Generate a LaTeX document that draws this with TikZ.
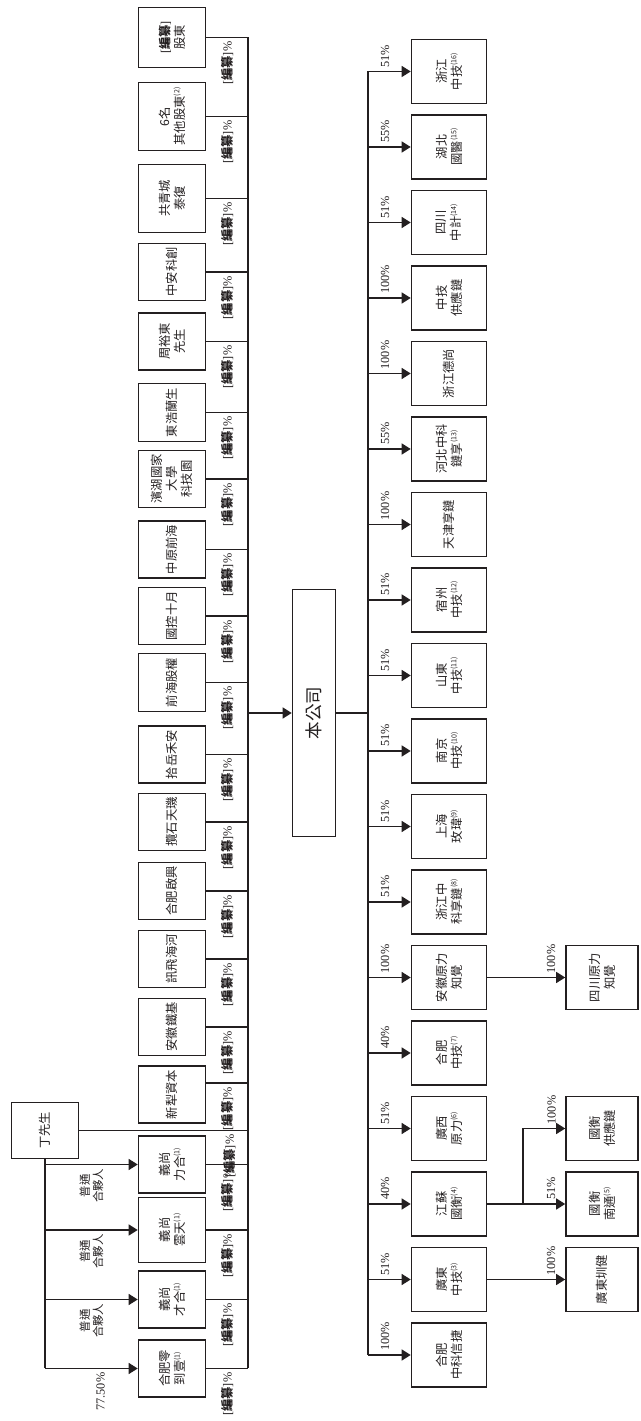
\documentclass[tikz,border=0pt]{standalone}
\usepackage{fontspec}
\setmainfont{Liberation Serif}
\newfontfamily\cjk{Noto Sans CJK TC}
\usetikzlibrary{arrows.meta}
\definecolor{ink}{RGB}{35,31,32}
\newcommand\px{0.02cm}
\newcommand\bz{{\rmfamily[}{\bfseries 編纂}{\rmfamily]}}
\newcommand\bzp{[{\cjk\bfseries 編纂}]\%}
\newcommand\nt[1]{\raisebox{.7ex}{\fontsize{4}{4}\selectfont(#1)}}
\tikzset{
  box/.style={draw=ink, line width=.9pt, text=ink, inner sep=1pt, align=center,
    font=\cjk\fontsize{7}{8.5}\selectfont},
  holder/.style={box, minimum height=67*\px},
  subbox/.style={box, minimum width=64*\px, minimum height=75*\px},
  link/.style={draw=ink, line width=.75pt},
  arr/.style={link, -{Triangle[length=.18cm, width=.22cm]}},
  pct/.style={text=ink, inner sep=2pt, align=center, font=\fontsize{7}{8}\selectfont},
}
\begin{document}
\begin{tikzpicture}[x=\px, y=\px, rotate=90, transform shape]
\useasboundingbox (0,0) rectangle (1421,640);

% shareholders
\foreach \nm/\xc/\w/\txt in {
  s1/1383.5/60/{\bz\\股東},
  s2/1304.5/68/{6名\\其他股東\nt{2}},
  s3/1222.5/68/{共青城\\泰復},
  s4/1149/57/中安科創,
  s5/1079.5/57/{周裕東\\先生},
  s6/1008.5/58/東浩蘭生,
  s7/942/57/{濱湖國家\\大學\\科技園},
  s8/871.5/57/中原前海,
  s9/805/57/國控十月,
  s10/738.5/58/前海股權,
  s11/666.5/57/拾岳禾安,
  s12/599/57/攬石天璣,
  s13/530/57/合肥啟興,
  s14/462/57/訊飛海河,
  s15/394/57/安徽鐵基,
  s16/326.5/57/新犁資本,
  s18/256.5/57/{義尚\\力合\nt{1}},
  s19/191/65/{義尚\\雲天\nt{1}},
  s20/121.5/57/{義尚\\才合\nt{1}},
  s21/52.5/57/{合肥零\\到壹\nt{1}}}
  \node[holder, minimum width=\w*\px] (\nm) at (\xc,468) {\txt};

\coordinate (bus) at (708,392);
\foreach \nm in {s1,s2,s3,s4,s5,s6,s7,s8,s9,s10,s11,s12,s13,s14,s15,s18,s19,s20,s21}
  \draw[link] (\nm.south) -- (\nm.south |- bus) node[midway, left, pct] {\bzp};
\coordinate (s16x) at ([xshift=11.5*\px]s16.south);
\draw[link] (s16x) -- (s16x |- bus) node[midway, left, pct] {\bzp};
\draw[link] (s21.south |- bus) -- (s1.south |- bus);

% Ding
\node[box, minimum width=56*\px, minimum height=67*\px] (ding) at (290.5,595) {丁先生};
\draw[link] (ding.south) -- (ding.south |- bus) node[pos=.89, left, pct] {\bzp};
\draw[link] (ding.west) -- (ding.west -| s21);
\foreach \nm in {s18,s19,s20}
  \draw[arr] (ding.west -| \nm) -- (\nm.north)
    node[midway, left, pct, font=\cjk\fontsize{6.5}{7.5}\selectfont] {普通\\合夥人};
\draw[arr] (ding.west -| s21) -- (s21.north) node[pos=.6, left, pct] {77.50\%};

% company
\node[box, minimum width=247*\px, minimum height=43*\px,
  font=\cjk\fontsize{10}{12}\selectfont] (co) at (708,326) {本公司};
\draw[arr] (bus) -- (co.north);
\coordinate (sbus) at (708,272);
\draw[link] (co.south) -- (sbus);

% subsidiaries
\foreach \nm/\p/\txt [count=\i from 0] in {
  z1/51/{浙江\\中技\nt{16}},
  z2/55/{湖北\\國醫\nt{15}},
  z3/51/{四川\\中計\nt{14}},
  z4/100/{中技\\供應鏈},
  z5/100/浙江德尚,
  z6/55/{河北中科\\鏈享\nt{13}},
  z7/100/天津享鏈,
  z8/51/{宿州\\中技\nt{12}},
  z9/51/{山東\\中技\nt{11}},
  z10/51/{南京\\中技\nt{10}},
  z11/51/{上海\\玫瑋\nt{9}},
  z12/51/{浙江中\\科享鏈\nt{8}},
  z13/100/{安徽原力\\知覺},
  z14/40/{合肥\\中技\nt{7}},
  z15/51/{廣西\\原力\nt{6}},
  z16/40/{江蘇\\國衡\nt{4}},
  z17/51/{廣東\\中技\nt{3}},
  z18/100/{合肥\\中科信捷}}
{
  \node[subbox] (\nm) at ({1349.5-75.5*\i},191) {\txt};
  \draw[arr] (\nm.north |- sbus) -- (\nm.north) node[pos=.4, right, pct] {\p\%};
}
\draw[link] (z1.north |- sbus) -- (z18.north |- sbus);

% third level
\coordinate (lv3) at (0,38);
\coordinate (lvj) at (0,117);
\node[subbox, minimum height=72*\px] (scyl) at (z13 |- lv3) {四川原力\\知覺};
\node[subbox, minimum height=72*\px] (ghgy) at (z15 |- lv3) {國衡\\供應鏈};
\node[subbox, minimum height=72*\px] (ghnt) at (z16 |- lv3) {國衡\\南通\nt{5}};
\node[subbox, minimum height=72*\px] (gdzj) at (z17 |- lv3) {廣東圳健};
\draw[arr] (z13.south) -- (scyl.north) node[pos=.82, right, pct] {100\%};
\draw[arr] (z16.south) -- (ghnt.north) node[pos=.82, right, pct] {51\%};
\draw[arr] (z16 |- lvj) -| (ghgy.north) node[pos=.84, right, pct] {100\%};
\draw[arr] (z17.south) -- (gdzj.north) node[pos=.82, right, pct] {100\%};
\end{tikzpicture}
\end{document}
